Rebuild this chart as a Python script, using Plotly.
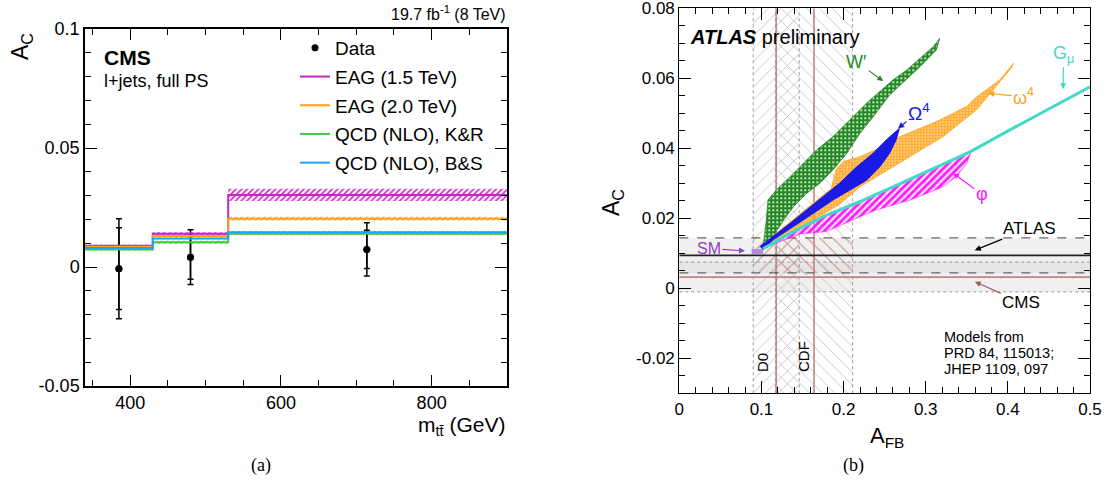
import plotly.graph_objects as go

W, H = 1105, 484

# ---------------- Panel (a) data : CMS ----------------
mtt_edges = [340, 430, 530, 900]
eag15 = [0.0089, 0.0140, 0.0303]
eag15_err = [0.0005, 0.0006, 0.0026]
eag20 = [0.0085, 0.0130, 0.0203]
eag20_err = [0.0004, 0.0005, 0.0008]
qcd_kr = [0.0074, 0.0104, 0.0140]
qcd_kr_err = [0.0005, 0.0006, 0.0006]
qcd_bs = [0.0080, 0.0120, 0.0146]
qcd_bs_err = [0.0003, 0.0003, 0.0004]

data_mtt = [385, 480, 714]
data_ac = [-0.0007, 0.0041, 0.0074]
data_tot = [0.0210, 0.0115, 0.0112]
data_stat = [0.0172, 0.0092, 0.0080]

a_xticks = [400, 600, 800]
a_xtext = ["400", "600", "800"]
a_yticks = [-0.05, 0, 0.05, 0.1]
a_ytext = ["-0.05", "0", "0.05", "0.1"]

# ---------------- Panel (b) data : ATLAS ----------------
wp_afb = [0.102, 0.106, 0.108, 0.118, 0.135, 0.151, 0.167, 0.187, 0.208, 0.228, 0.244, 0.260, 0.277,
          0.293, 0.309, 0.317, 0.313, 0.293, 0.273, 0.256, 0.236, 0.220, 0.204, 0.187, 0.171, 0.155,
          0.139, 0.127, 0.114, 0.106]
wp_ac = [0.0119, 0.0195, 0.0252, 0.0281, 0.0319, 0.0357, 0.0395, 0.0433, 0.0481, 0.0529, 0.0562, 0.0595,
         0.0624, 0.0657, 0.0690, 0.0714, 0.0681, 0.0633, 0.0590, 0.0552, 0.0490, 0.0443, 0.0386, 0.0338,
         0.0300, 0.0271, 0.0233, 0.0195, 0.0147, 0.0119]

om_afb = [0.098, 0.114, 0.135, 0.155, 0.175, 0.195, 0.216, 0.236, 0.252, 0.268, 0.264, 0.256, 0.244,
          0.228, 0.208, 0.187, 0.163, 0.139, 0.114, 0.102]
om_ac = [0.0119, 0.0147, 0.0186, 0.0224, 0.0262, 0.0300, 0.0347, 0.0386, 0.0424, 0.0457, 0.0424, 0.0386,
         0.0347, 0.0309, 0.0281, 0.0252, 0.0214, 0.0176, 0.0138, 0.0110]

ow_afb = [0.102, 0.122, 0.155, 0.185, 0.191, 0.200, 0.220, 0.248, 0.268, 0.289, 0.309, 0.325, 0.350,
          0.362, 0.374, 0.390, 0.407, 0.404, 0.382, 0.362, 0.341, 0.321, 0.301, 0.281, 0.260, 0.240,
          0.220, 0.195, 0.175, 0.135, 0.106]
ow_ac = [0.0119, 0.0165, 0.0228, 0.0285, 0.0340, 0.0362, 0.0376, 0.0405, 0.0433, 0.0452, 0.0472, 0.0490,
         0.0520, 0.0547, 0.0567, 0.0595, 0.0643, 0.0629, 0.0567, 0.0510, 0.0471, 0.0433, 0.0405, 0.0376,
         0.0347, 0.0319, 0.0290, 0.0240, 0.0212, 0.0160, 0.0122]

phi_afb = [0.102, 0.135, 0.175, 0.220, 0.260, 0.301, 0.356, 0.350, 0.337, 0.321, 0.301, 0.281, 0.260,
           0.240, 0.224, 0.179, 0.147, 0.122, 0.102]
phi_ac = [0.0113, 0.0155, 0.0202, 0.0245, 0.0287, 0.0330, 0.0395, 0.0357, 0.0319, 0.0290, 0.0271, 0.0252,
          0.0238, 0.0224, 0.0209, 0.0162, 0.0155, 0.0133, 0.0113]

gmu_afb = [0.102, 0.135, 0.175, 0.220, 0.260, 0.301, 0.354, 0.402, 0.447, 0.500]
gmu_ac = [0.0113, 0.0157, 0.0205, 0.0248, 0.0290, 0.0333, 0.0390, 0.0452, 0.0509, 0.0576]

sm_afb = [0.088, 0.102]
sm_ac = [0.0105, 0.0105]

d0_afb = [0.090, 0.118, 0.146]     # low, central, high
cdf_afb = [0.117, 0.164, 0.211]
atlas_ac = [0.0044, 0.0094, 0.0144]
cms_ac = [-0.0010, 0.0032, 0.0075]
afb_range = [0.0, 0.5]
ac_range = [-0.03, 0.08]

b_xticks = [0, 0.1, 0.2, 0.3, 0.4, 0.5]
b_xtext = ["0", "0.1", "0.2", "0.3", "0.4", "0.5"]
b_yticks = [-0.02, 0, 0.02, 0.04, 0.06, 0.08]
b_ytext = ["-0.02", "0", "0.02", "0.04", "0.06", "0.08"]

FONT = "Liberation Sans, Arial, sans-serif"

C_MAG = "#cc22cc"
C_ORA = "#ff9f1a"
C_GRN = "#3fcc3f"
C_BLU = "#1aa3ff"


def PX(xp):
    return xp / W


def PY(yp):
    return 1 - yp / H


fig = go.Figure()


def step_band(edges, vals, errs):
    xs, ys = [], []
    for i in range(len(vals)):
        xs += [edges[i], edges[i + 1]]
        ys += [vals[i] + errs[i]] * 2
    xl, yl = [], []
    for i in range(len(vals)):
        xl += [edges[i], edges[i + 1]]
        yl += [vals[i] - errs[i]] * 2
    return xs + xl[::-1] + [xs[0]], ys + yl[::-1] + [ys[0]]


series = [
    ("EAG (1.5 TeV)", eag15, eag15_err, C_MAG),
    ("EAG (2.0 TeV)", eag20, eag20_err, C_ORA),
    ("QCD (NLO), K&R", qcd_kr, qcd_kr_err, C_GRN),
    ("QCD (NLO), B&S", qcd_bs, qcd_bs_err, C_BLU),
]

# bands
for name, v, e, c in series:
    bx, by = step_band(mtt_edges, v, e)
    fig.add_trace(go.Scatter(x=bx, y=by, mode="lines", line=dict(width=0), fill="toself",
                             fillcolor="rgba(0,0,0,0)",
                             fillpattern=dict(shape="/", fgcolor=c, bgcolor="rgba(255,255,255,0)",
                                              size=4, solidity=0.4),
                             showlegend=False, hoverinfo="skip", xaxis="x", yaxis="y"))

# data (legend first)
fig.add_trace(go.Scatter(x=data_mtt, y=data_ac, mode="markers", name="Data",
                         marker=dict(color="black", size=7),
                         error_y=dict(type="data", array=data_tot, color="black", thickness=1.5, width=3),
                         legendgroup="g0", xaxis="x", yaxis="y"))
fig.add_trace(go.Scatter(x=data_mtt, y=data_ac, mode="markers", showlegend=False,
                         marker=dict(color="black", size=7),
                         error_y=dict(type="data", array=data_stat, color="black", thickness=1.5, width=3),
                         xaxis="x", yaxis="y"))

for k, (name, v, e, c) in enumerate(series):
    fig.add_trace(go.Scatter(x=mtt_edges, y=v + [v[-1]], mode="lines", name=name,
                             line=dict(color=c, width=2, shape="hv"), legendgroup="g%d" % (k + 1),
                             xaxis="x", yaxis="y"))

# ---------------- Panel (b) ----------------
def rect(x0, x1, y0, y1):
    return [x0, x1, x1, x0, x0], [y0, y0, y1, y1, y0]


def add_b(tr):
    tr.update(xaxis="x2", yaxis="y2", showlegend=False, hoverinfo="skip")
    fig.add_trace(tr)


# horizontal gray bands
for lo, hi in [(atlas_ac[0], atlas_ac[2]), (cms_ac[0], cms_ac[2])]:
    rx, ry = rect(afb_range[0], afb_range[1], lo, hi)
    add_b(go.Scatter(x=rx, y=ry, mode="lines", line=dict(width=0), fill="toself",
                     fillcolor="rgba(200,200,200,0.28)"))

# vertical hatched bands
for band, shp in [(d0_afb, "/"), (cdf_afb, "\\")]:
    rx, ry = rect(band[0], band[2], ac_range[0], ac_range[1])
    add_b(go.Scatter(x=rx, y=ry, mode="lines", line=dict(width=0), fill="toself",
                     fillcolor="rgba(0,0,0,0)",
                     fillpattern=dict(shape=shp, fgcolor="#c4c4c4", bgcolor="rgba(255,255,255,0)",
                                      size=9, solidity=0.1)))
    rx, ry = rect(band[0], band[2], atlas_ac[0], atlas_ac[2])
    add_b(go.Scatter(x=rx, y=ry, mode="lines", line=dict(width=0), fill="toself",
                     fillcolor="rgba(0,0,0,0)",
                     fillpattern=dict(shape=shp, fgcolor="#d49a9a", bgcolor="rgba(255,255,255,0)",
                                      size=9, solidity=0.12)))
    for xv in (band[0], band[2]):
        add_b(go.Scatter(x=[xv, xv], y=ac_range, mode="lines",
                         line=dict(color="#999999", width=1, dash="dot")))
    add_b(go.Scatter(x=[band[1], band[1]], y=ac_range, mode="lines",
                     line=dict(color="#c08585", width=1.6)))

# horizontal lines
add_b(go.Scatter(x=afb_range, y=[atlas_ac[1]] * 2, mode="lines", line=dict(color="#222222", width=1.8)))
for yv in (atlas_ac[0], atlas_ac[2]):
    add_b(go.Scatter(x=afb_range, y=[yv, yv], mode="lines", line=dict(color="#444444", width=1, dash="dash")))
add_b(go.Scatter(x=afb_range, y=[cms_ac[1]] * 2, mode="lines", line=dict(color="#c08585", width=1.6)))
for yv in (cms_ac[0], cms_ac[2]):
    add_b(go.Scatter(x=afb_range, y=[yv, yv], mode="lines", line=dict(color="#999999", width=1, dash="dot")))

# model clouds
add_b(go.Scatter(x=wp_afb, y=wp_ac, mode="lines", line=dict(width=0.8, color="#238a23"), fill="toself",
                 fillcolor="#238a23",
                 fillpattern=dict(shape=".", fgcolor="#ffffff", bgcolor="#238a23",
                                  size=4, solidity=0.2)))
add_b(go.Scatter(x=ow_afb, y=ow_ac, mode="lines", line=dict(width=0.8, color="#ffa31a"), fill="toself",
                 fillcolor="rgba(255,163,26,0.25)",
                 fillpattern=dict(shape=".", fgcolor="#ffa31a", bgcolor="rgba(255,200,120,0.3)",
                                  size=3, solidity=0.7)))
add_b(go.Scatter(x=om_afb, y=om_ac, mode="lines", line=dict(width=1, color="#1a1ae6"), fill="toself",
                 fillcolor="#1a1ae6"))
add_b(go.Scatter(x=phi_afb, y=phi_ac, mode="lines", line=dict(width=0.6, color="#ff1aff"), fill="toself",
                 fillcolor="rgba(255,26,255,0.15)",
                 fillpattern=dict(shape="/", fgcolor="#ff1aff", bgcolor="rgba(255,150,255,0.2)",
                                  size=5, solidity=0.55)))
add_b(go.Scatter(x=gmu_afb, y=gmu_ac, mode="lines", line=dict(color="#44d8c8", width=3)))
add_b(go.Scatter(x=sm_afb, y=sm_ac, mode="lines", line=dict(color="#b48ce6", width=5)))

# ---------------- Layout ----------------
axis_common = dict(showgrid=False, zeroline=False, showline=True, linecolor="black", mirror="allticks",
                   ticks="inside", tickcolor="black", automargin=False, ticklabeloverflow="allow")

a_x0, a_x1, a_yt, a_yb = 85, 507, 29, 386
b_x0, b_x1, b_yt, b_yb = 679.3, 1090, 8.3, 393.3

fig.update_layout(
    template="none",
    width=W, height=H, margin=dict(l=0, r=0, t=0, b=0, pad=0, autoexpand=False),
    paper_bgcolor="white", plot_bgcolor="white",
    font=dict(family=FONT, color="black"),
    xaxis=dict(domain=[PX(a_x0), PX(a_x1)], anchor="y", range=[mtt_edges[0], mtt_edges[-1]],
               tickvals=a_xticks, ticktext=a_xtext, ticklen=11, tickwidth=1, linewidth=1.5,
               tickfont=dict(family=FONT, size=18, color="black"),
               minor=dict(dtick=50, ticklen=6, ticks="inside", tickcolor="black", showgrid=False),
               **axis_common),
    yaxis=dict(domain=[PY(a_yb), PY(a_yt)], anchor="x", range=[-0.05, 0.1],
               tickvals=a_yticks, ticktext=a_ytext, ticklen=12, tickwidth=1, linewidth=1.5,
               tickfont=dict(family=FONT, size=18, color="black"),
               minor=dict(dtick=0.01, ticklen=6, ticks="inside", tickcolor="black", showgrid=False),
               **axis_common),
    xaxis2=dict(domain=[PX(b_x0), PX(b_x1)], anchor="y2", range=afb_range,
                tickvals=b_xticks, ticktext=b_xtext, ticklen=12, tickwidth=1, linewidth=1.2,
                tickfont=dict(family=FONT, size=17, color="black"),
                minor=dict(dtick=0.02, ticklen=6, ticks="inside", tickcolor="black", showgrid=False),
                **axis_common),
    yaxis2=dict(domain=[PY(b_yb), PY(b_yt)], anchor="x2", range=ac_range,
                tickvals=b_yticks, ticktext=b_ytext, ticklen=12, tickwidth=1, linewidth=1.2,
                tickfont=dict(family=FONT, size=17, color="black"),
                minor=dict(dtick=0.005, ticklen=6, ticks="inside", tickcolor="black", showgrid=False),
                **axis_common),
    legend=dict(x=PX(295), y=PY(29), xanchor="left", yanchor="top", bgcolor="rgba(0,0,0,0)",
                font=dict(family=FONT, size=19, color="black"), traceorder="grouped", tracegroupgap=1),
    showlegend=True,
)


def ann_px(text, xp, yp, size, xanchor="center", color="black", angle=0, family=FONT, yanchor="middle"):
    fig.add_annotation(text=text, x=PX(xp), y=PY(yp), xref="paper", yref="paper", xanchor=xanchor,
                       yanchor=yanchor, showarrow=False, textangle=angle,
                       font=dict(family=family, size=size, color=color))


# panel (a) texts
ann_px("19.7 fb<sup>-1</sup> (8 TeV)", 508, 13, 16, xanchor="right")
ann_px("<b>CMS</b>", 102, 57, 21, xanchor="left")
ann_px("l+jets, full PS", 102, 81, 18, xanchor="left")
ann_px("A<sub>C</sub>", 22, 47, 23, angle=-90)
ann_px("m<sub>tt\u0304</sub> (GeV)", 508, 411, 21, xanchor="right", yanchor="top")
ann_px("(a)", 261, 465, 18, family="Liberation Serif, Times New Roman, serif")

# panel (b) texts
ann_px("<b><i>ATLAS</i></b> preliminary", 688, 37, 20, xanchor="left")
ann_px("A<sub>C</sub>", 612, 203, 23, angle=-90)
ann_px("A<sub>FB</sub>", 887, 437, 22)
ann_px("(b)", 853, 465, 18, family="Liberation Serif, Times New Roman, serif")
ann_px("Models from", 942, 337, 14.5, xanchor="left")
ann_px("PRD 84, 115013;", 942, 353, 14.5, xanchor="left")
ann_px("JHEP 1109, 097", 942, 369, 14.5, xanchor="left")
ann_px("D0", 762, 363, 15, angle=-90)
ann_px("CDF", 803, 357, 15, angle=-90)

# arrow labels in panel (b): (text, text_x, text_y, head_x, head_y, color, size)
arrow_labels = [
    ("W\u2032", 0.2162, 0.0647, 0.2482, 0.0592, "#238a23", 18),
    ("\u03a9<sup>4</sup>", 0.2916, 0.0505, 0.2664, 0.0457, "#1a1ae6", 19),
    ("\u03c9<sup>4</sup>", 0.4194, 0.0547, 0.3760, 0.0557, "#ffa31a", 18),
    ("G<sub>\u03bc</sub>", 0.4679, 0.0669, 0.4672, 0.0569, "#44d8c8", 18),
    ("\u03c6", 0.3682, 0.0269, 0.3333, 0.0329, "#ff1aff", 18),
    ("ATLAS", 0.4266, 0.0172, 0.3597, 0.0109, "black", 17),
    ("CMS", 0.4165, -0.0041, 0.3597, 0.0019, "#a06060", 17),
    ("SM", 0.0361, 0.0114, 0.0799, 0.0107, "#9040c8", 16),
]
for t, tx, ty, hx, hy, c, s in arrow_labels:
    fig.add_annotation(text=t, x=hx, y=hy, ax=tx, ay=ty, xref="x2", yref="y2", axref="x2", ayref="y2",
                       showarrow=True, arrowhead=2, arrowsize=1, arrowwidth=1.2, arrowcolor=c,
                       standoff=0, font=dict(family=FONT, size=s, color=("black" if t == "CMS" else c)))

fig.write_html("out.html")
